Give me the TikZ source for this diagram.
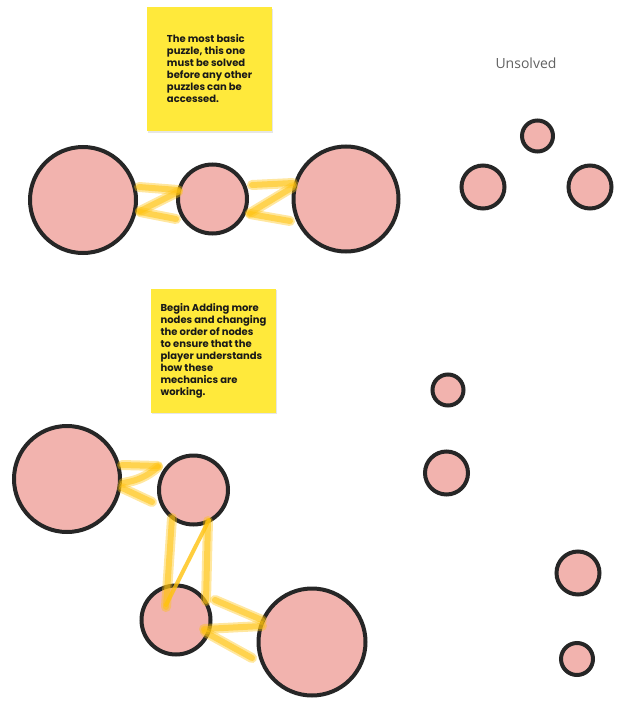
\documentclass[tikz,border=0pt]{standalone}
\usepackage{fontspec}
\newfontfamily\notefont{Poppins}
\newfontfamily\tagfont{Open Sans}
\usetikzlibrary{calc,shadows}
\definecolor{nodepink}{HTML}{F2B3AE}
\definecolor{nodeedge}{HTML}{262626}
\definecolor{notey}{HTML}{FFE93B}
\definecolor{markery}{HTML}{FFC20E}

\begin{document}
\begin{tikzpicture}[x=1pt,y=-1pt,
  puzzle/.style={circle,draw=nodeedge,fill=nodepink,line width=4pt,inner sep=0pt},
  sticky/.style={fill=notey,minimum width=125pt,minimum height=124pt,inner sep=0pt,
    align=left,text=black!90,font=\notefont\bfseries\fontsize{10}{12}\selectfont,
    drop shadow={shadow xshift=0.6pt,shadow yshift=-1.6pt,opacity=0.2}},
  marker/.style={draw=markery,line width=6pt,opacity=0.55,line cap=round,line join=round,
    preaction={draw=markery,line width=10pt,opacity=0.4,line cap=round}},
  thinmarker/.style={draw=markery,line width=4pt,opacity=0.8,line cap=round}]
  \useasboundingbox (0,0) rectangle (626,706);
% notes
  \node[sticky] (note1) at (209.5,69) {The most basic\\puzzle, this one\\must be solved\\before any other\\puzzles can be\\accessed.};
  \node[sticky] (note2) at (213.5,350.5) {Begin Adding more\\nodes and changing\\the order of nodes\\to ensure that the\\player understands\\how these\\mechanics are\\working.};
  \node[text=black!62,font=\tagfont\fontsize{14}{16}\selectfont] (unsolved) at (526,63) {Unsolved};
% first puzzle
  \node[puzzle,minimum size=106pt] (A) at (83,200) {};
  \node[puzzle,minimum size=69pt] (B) at (212.5,199) {};
  \node[puzzle,minimum size=105pt] (C) at (346,199) {};
% second puzzle
  \node[puzzle,minimum size=106pt] (D) at (67,479) {};
  \node[puzzle,minimum size=69pt] (E) at (193.5,490) {};
  \node[puzzle,minimum size=69pt] (F) at (176,620) {};
  \node[puzzle,minimum size=107pt] (G) at (312,642) {};
% unsolved ones
  \node[puzzle,minimum size=31pt] (u1) at (537.5,136) {};
  \node[puzzle,minimum size=43pt] (u2) at (483,187) {};
  \node[puzzle,minimum size=43pt] (u3) at (590,187) {};
  \node[puzzle,minimum size=31pt] (u4) at (448,390) {};
  \node[puzzle,minimum size=43pt] (u5) at (446.5,473) {};
  \node[puzzle,minimum size=43pt] (u6) at (578,573) {};
  \node[puzzle,minimum size=32pt] (u7) at (577,659) {};
% links A-B-C
  \draw[marker] ($(A)+(56,-13)$) -- ($(B)+(-34.5,-9)$);
  \draw[marker] ($(B)+(-34.5,-7)$) -- ($(A)+(57,11)$);
  \draw[marker] ($(A)+(57,12)$) -- ($(B)+(-36.5,20)$);
  \draw[marker] ($(B)+(39.5,-14)$) -- ($(C)+(-53,-16)$);
  \draw[marker] ($(C)+(-53,-12)$) -- ($(B)+(37.5,14)$);
  \draw[marker] ($(B)+(37.5,15)$) -- ($(C)+(-56,22)$);
% links D-E-F-G
  \draw[marker] ($(D)+(55,-14)$) -- ($(E)+(-35.5,-24)$);
  \draw[marker] ($(E)+(-35.5,-23)$) to[bend left=15] ($(D)+(56,4)$);
  \draw[marker] ($(D)+(55,9)$) -- ($(E)+(-41.5,12)$);
  \draw[marker] ($(E)+(-21.5,28)$) -- ($(F)+(-10,-13)$);
  \draw[thinmarker] ($(F)+(-10,-15)$) -- ($(E)+(15.5,30)$);
  \draw[marker] ($(E)+(14.5,31)$) -- ($(F)+(30,-19)$);
  \draw[marker] ($(F)+(39,-20)$) -- ($(G)+(-50,-22)$);
  \draw[marker] ($(G)+(-50,-16)$) -- ($(F)+(28,9)$);
  \draw[marker] ($(F)+(29,12)$) -- ($(G)+(-60,16)$);
\end{tikzpicture}
\end{document}
